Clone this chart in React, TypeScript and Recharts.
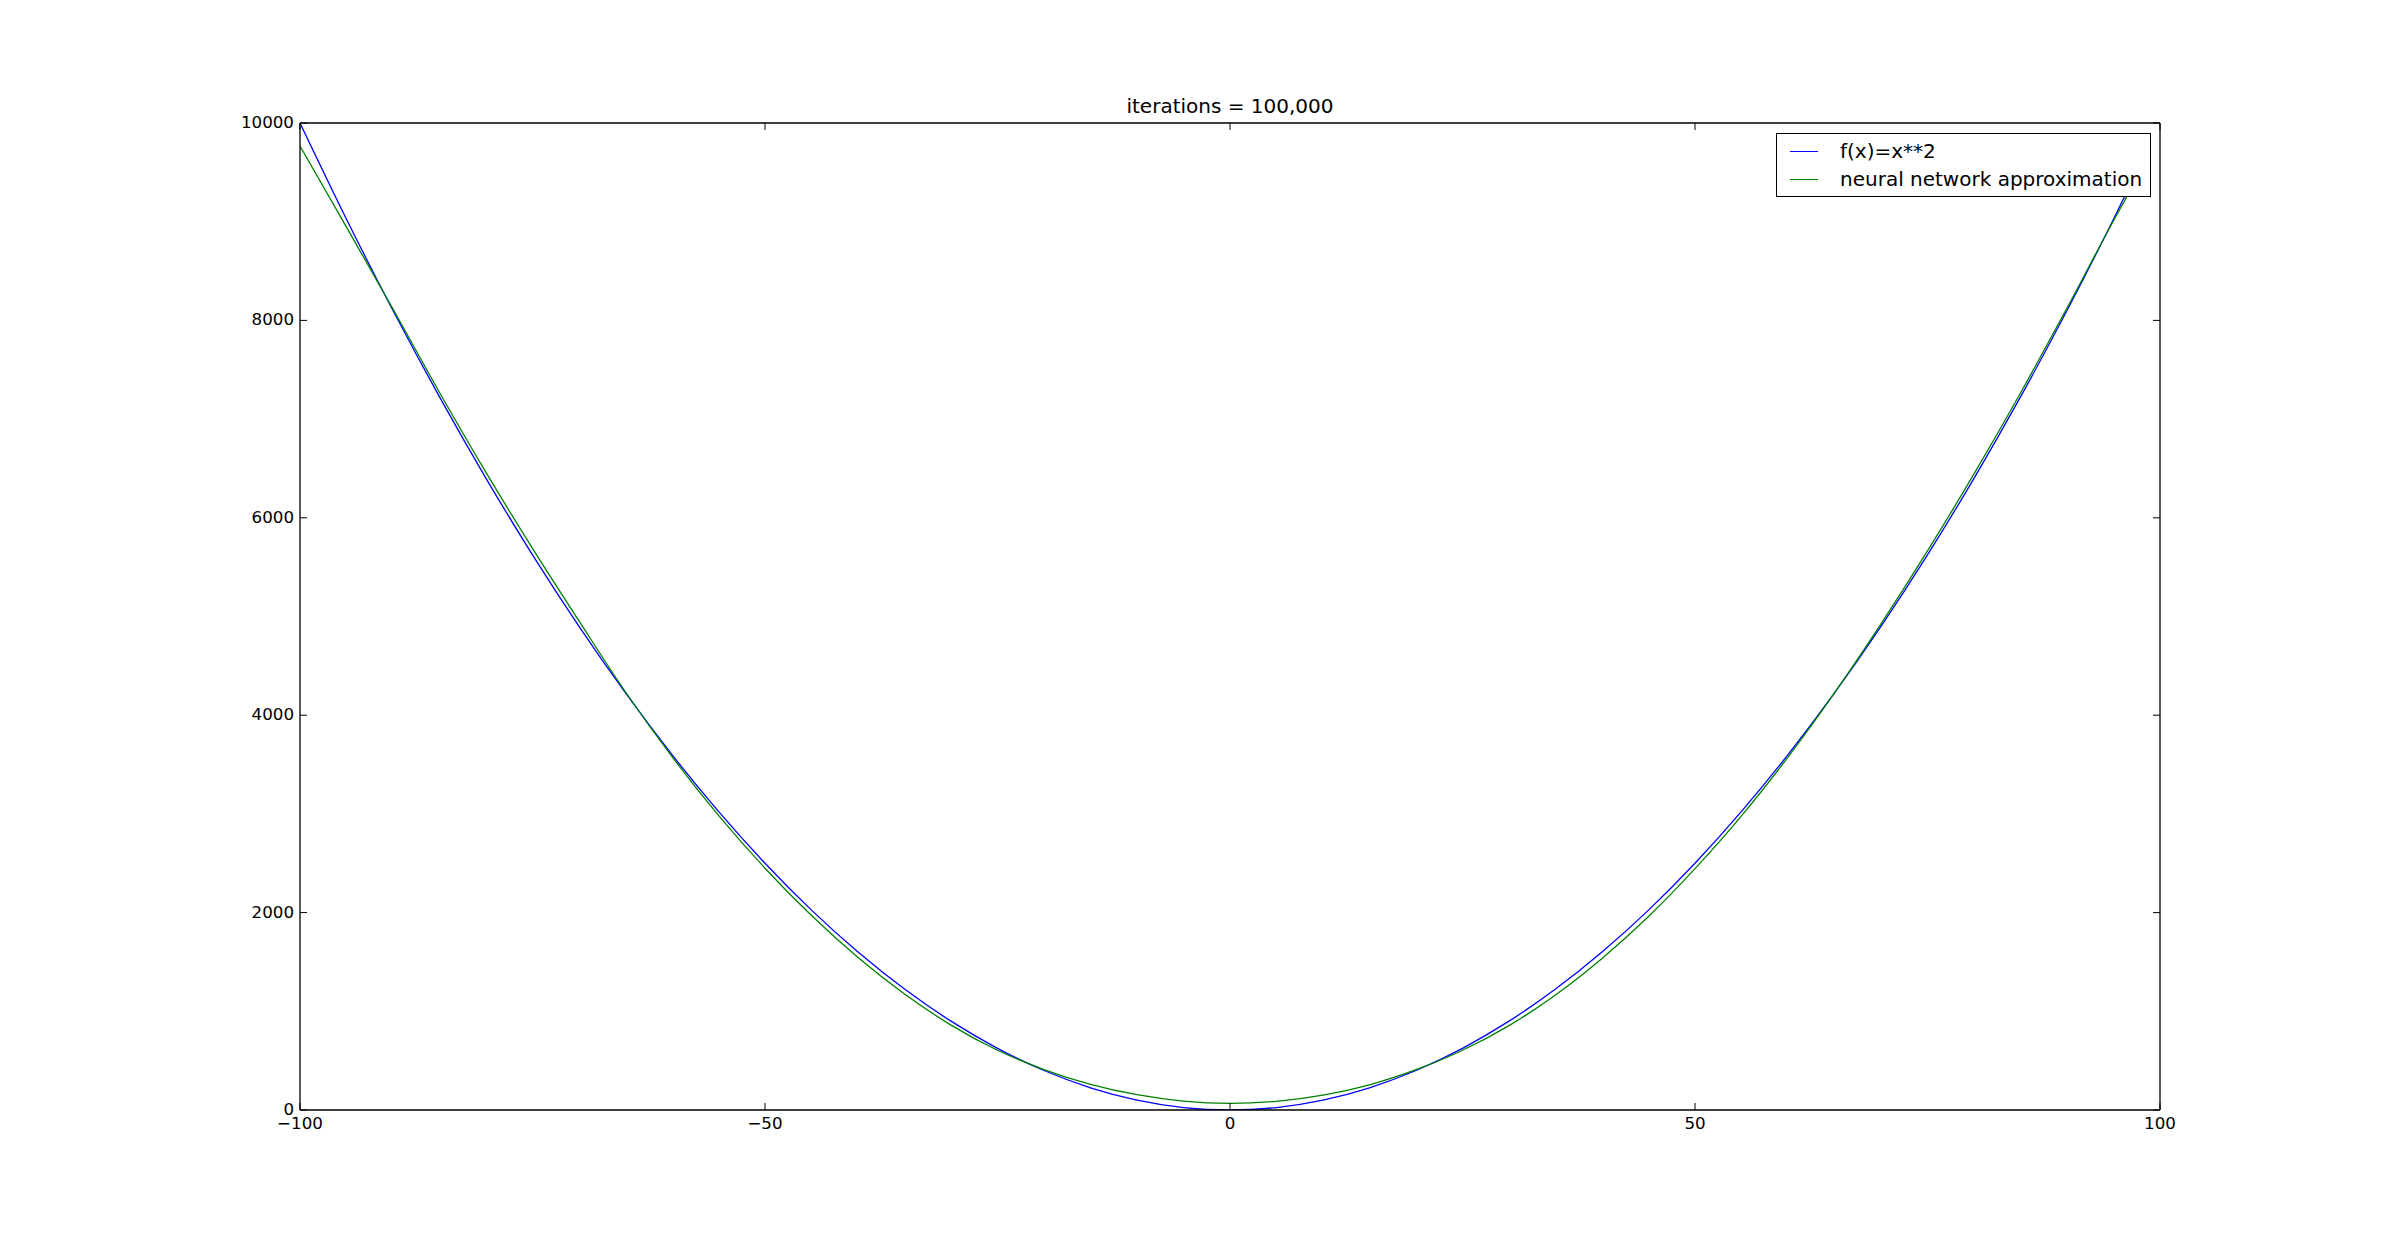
import { LineChart, Line, XAxis, YAxis } from 'recharts';

const xValues = [
  -100, -95, -90, -85, -80, -75, -70, -65, -60, -55, -50, -45, -40, -35, -30, -25, -20, -15, -10, -5, 0,
  5, 10, 15, 20, 25, 30, 35, 40, 45, 50, 55, 60, 65, 70, 75, 80, 85, 90, 95, 99,
];
const squareValues = [
  10000, 9025, 8100, 7225, 6400, 5625, 4900, 4225, 3600, 3025, 2500, 2025, 1600, 1225, 900, 625, 400, 225, 100, 25, 0,
  25, 100, 225, 400, 625, 900, 1225, 1600, 2025, 2500, 3025, 3600, 4225, 4900, 5625, 6400, 7225, 8100, 9025, 9801,
];
const approxValues = [
  9767, 8945, 8115, 7270, 6460, 5690, 4955, 4235, 3580, 2985, 2450, 1970, 1545, 1175, 860, 605, 410, 260, 155, 90, 68,
  88, 150, 255, 408, 605, 855, 1165, 1535, 1960, 2445, 2980, 3575, 4225, 4925, 5665, 6445, 7265, 8125, 9010, 9680,
];
const xTicks = [-100, -50, 0, 50, 100];
const yTicks = [0, 2000, 4000, 6000, 8000, 10000];

const seriesNames = ['f(x)=x**2', 'neural network approximation'];
const seriesColors = ['#0000ff', '#008000'];

const data = xValues.map((x, i) => ({ x, square: squareValues[i], approx: approxValues[i] }));

const FONT = "'DejaVu Sans', sans-serif";
const TICK_LEN = 7;

const fmt = (v: number) => (v < 0 ? '\u2212' + Math.abs(v) : String(v));

const BottomTick = (props: any) => {
  const { x, y, payload } = props;
  return (
    <g>
      <line x1={x} y1={y} x2={x} y2={y - TICK_LEN} stroke="#000" strokeWidth={1} />
      <text x={x} y={y + 19} textAnchor="middle" fontSize={16.7} fontFamily={FONT} fill="#000">
        {fmt(payload.value)}
      </text>
    </g>
  );
};

const TopTick = (props: any) => {
  const { x, y } = props;
  return <line x1={x} y1={y} x2={x} y2={y + TICK_LEN} stroke="#000" strokeWidth={1} />;
};

const LeftTick = (props: any) => {
  const { x, y, payload } = props;
  return (
    <g>
      <line x1={x} y1={y} x2={x + TICK_LEN} y2={y} stroke="#000" strokeWidth={1} />
      <text x={x - 6} y={y + 5} textAnchor="end" fontSize={16.7} fontFamily={FONT} fill="#000">
        {fmt(payload.value)}
      </text>
    </g>
  );
};

const RightTick = (props: any) => {
  const { x, y } = props;
  return <line x1={x} y1={y} x2={x - TICK_LEN} y2={y} stroke="#000" strokeWidth={1} />;
};

const LegendBox = () => (
  <div
    style={{
      position: 'absolute',
      left: 1776,
      top: 133,
      border: '1.3px solid #000',
      background: '#fff',
      boxSizing: 'border-box',
      width: 375,
      height: 64,
      padding: '3px 0 0 13px',
      fontFamily: FONT,
      fontSize: 20,
      color: '#000',
    }}
  >
    {seriesNames.map((name, i) => (
      <div key={name} style={{ display: 'flex', alignItems: 'center', height: 28 }}>
        <div style={{ width: 28, height: 0, borderTop: `1.3px solid ${seriesColors[i]}`, marginRight: 22 }} />
        <span style={{ lineHeight: '28px', whiteSpace: 'nowrap' }}>{name}</span>
      </div>
    ))}
  </div>
);

export default function App() {
  return (
    <div style={{ position: 'absolute', left: 0, top: 0, width: 2400, height: 1233, background: '#fff' }}>
      <div
        style={{
          position: 'absolute',
          left: 0,
          width: 2460,
          top: 94,
          textAlign: 'center',
          fontFamily: FONT,
          fontSize: 20,
          lineHeight: '24px',
          color: '#000',
        }}
      >
        iterations = 100,000
      </div>
      <LineChart width={2400} height={1233} data={data} margin={{ top: 93, right: 210, bottom: 93, left: 240 }}>
        <XAxis
          dataKey="x"
          type="number"
          domain={[-100, 100]}
          ticks={xTicks}
          interval={0}
          height={30}
          tickSize={0}
          tickMargin={0}
          tick={<BottomTick />}
          axisLine={{ stroke: '#000', strokeWidth: 1.3 }}
          allowDataOverflow
        />
        <XAxis
          xAxisId="top"
          orientation="top"
          dataKey="x"
          type="number"
          domain={[-100, 100]}
          ticks={xTicks}
          interval={0}
          height={30}
          tickSize={0}
          tickMargin={0}
          tick={<TopTick />}
          axisLine={{ stroke: '#000', strokeWidth: 1.3 }}
          allowDataOverflow
        />
        <YAxis
          type="number"
          domain={[0, 10000]}
          ticks={yTicks}
          interval={0}
          width={60}
          tickSize={0}
          tickMargin={0}
          tick={<LeftTick />}
          axisLine={{ stroke: '#000', strokeWidth: 1.3 }}
          allowDataOverflow
        />
        <YAxis
          yAxisId="right"
          orientation="right"
          type="number"
          domain={[0, 10000]}
          ticks={yTicks}
          interval={0}
          width={30}
          tickSize={0}
          tickMargin={0}
          tick={<RightTick />}
          axisLine={{ stroke: '#000', strokeWidth: 1.3 }}
          allowDataOverflow
        />
        <Line
          type="monotone"
          dataKey="square"
          name={seriesNames[0]}
          stroke={seriesColors[0]}
          strokeWidth={1.3}
          dot={false}
          isAnimationActive={false}
        />
        <Line
          type="monotone"
          dataKey="approx"
          name={seriesNames[1]}
          stroke={seriesColors[1]}
          strokeWidth={1.3}
          dot={false}
          isAnimationActive={false}
        />
      </LineChart>
      <LegendBox />
    </div>
  );
}
